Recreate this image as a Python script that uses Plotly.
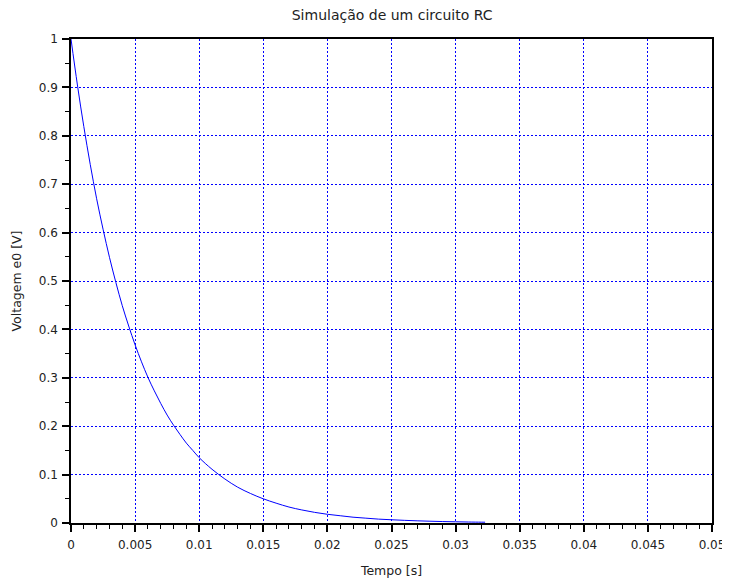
import plotly.graph_objects as go

# Time samples [s] and voltage values [V]
tempo = [0.0, 0.0005, 0.001, 0.0015, 0.002, 0.0025, 0.003, 0.0035, 0.004, 0.0045,
         0.005, 0.0055, 0.006, 0.0065, 0.007, 0.0075, 0.008, 0.0085, 0.009, 0.0095,
         0.010, 0.011, 0.012, 0.013, 0.014, 0.015, 0.016, 0.017, 0.018, 0.019,
         0.020, 0.021, 0.022, 0.023, 0.024, 0.025, 0.026, 0.027, 0.028, 0.029,
         0.030, 0.031, 0.032, 0.0323]
voltagem = [1.0, 0.905, 0.819, 0.741, 0.670, 0.607, 0.549, 0.497, 0.449, 0.407,
            0.368, 0.333, 0.301, 0.273, 0.247, 0.223, 0.202, 0.183, 0.165, 0.150,
            0.135, 0.111, 0.091, 0.074, 0.061, 0.050, 0.041, 0.033, 0.027, 0.022,
            0.018, 0.015, 0.012, 0.010, 0.008, 0.0067, 0.0055, 0.0045, 0.0037, 0.0030,
            0.0025, 0.0020, 0.0017, 0.0016]

titulo = "Simulação de um circuito RC"
eixo_x = "Tempo [s]"
eixo_y = "Voltagem e0 [V]"

FONT = "DejaVu Sans"
TXT = "#222222"

fig = go.Figure()
fig.add_trace(go.Scatter(x=tempo, y=voltagem, mode="lines",
                         line=dict(color="#0000ff", width=1, shape="spline"),
                         showlegend=False, hoverinfo="skip"))

axis_common = dict(
    automargin=False,
    showline=True, linecolor="black", linewidth=1.5, mirror=True,
    ticks="outside", tickcolor="black", tickwidth=1.5, ticklen=7,
    showgrid=True, gridcolor="#0000ff", griddash="2px,2px", gridwidth=1,
    zeroline=False, ticklabeloverflow="allow",
    tickfont=dict(family=FONT, size=12, color=TXT),
)

fig.update_layout(
    width=722, height=570,
    margin=dict(l=63, r=18, t=31, b=55, autoexpand=False),
    paper_bgcolor="white", plot_bgcolor="white",
    title=dict(text=titulo, x=0.532, xanchor="center", y=0.988, yanchor="middle",
               automargin=False,
               font=dict(family=FONT, size=14, color=TXT)),
    xaxis=dict(range=[0, 0.05], dtick=0.005, tick0=0, ticklabelstandoff=3,
               minor=dict(dtick=0.001, ticks="outside", ticklen=4, tickcolor="black",
                          tickwidth=1.2, showgrid=False),
               title=dict(text=eixo_x, font=dict(family=FONT, size=12.5, color=TXT),
                          standoff=18),
               **axis_common),
    yaxis=dict(range=[0, 1], dtick=0.1, tick0=0, ticklabelstandoff=2,
               minor=dict(dtick=0.05, ticks="outside", ticklen=4, tickcolor="black",
                          tickwidth=1.2, showgrid=False),
               title=dict(text=eixo_y, font=dict(family=FONT, size=12.5, color=TXT),
                          standoff=14),
               **axis_common),
)

fig.write_html("out.html")
